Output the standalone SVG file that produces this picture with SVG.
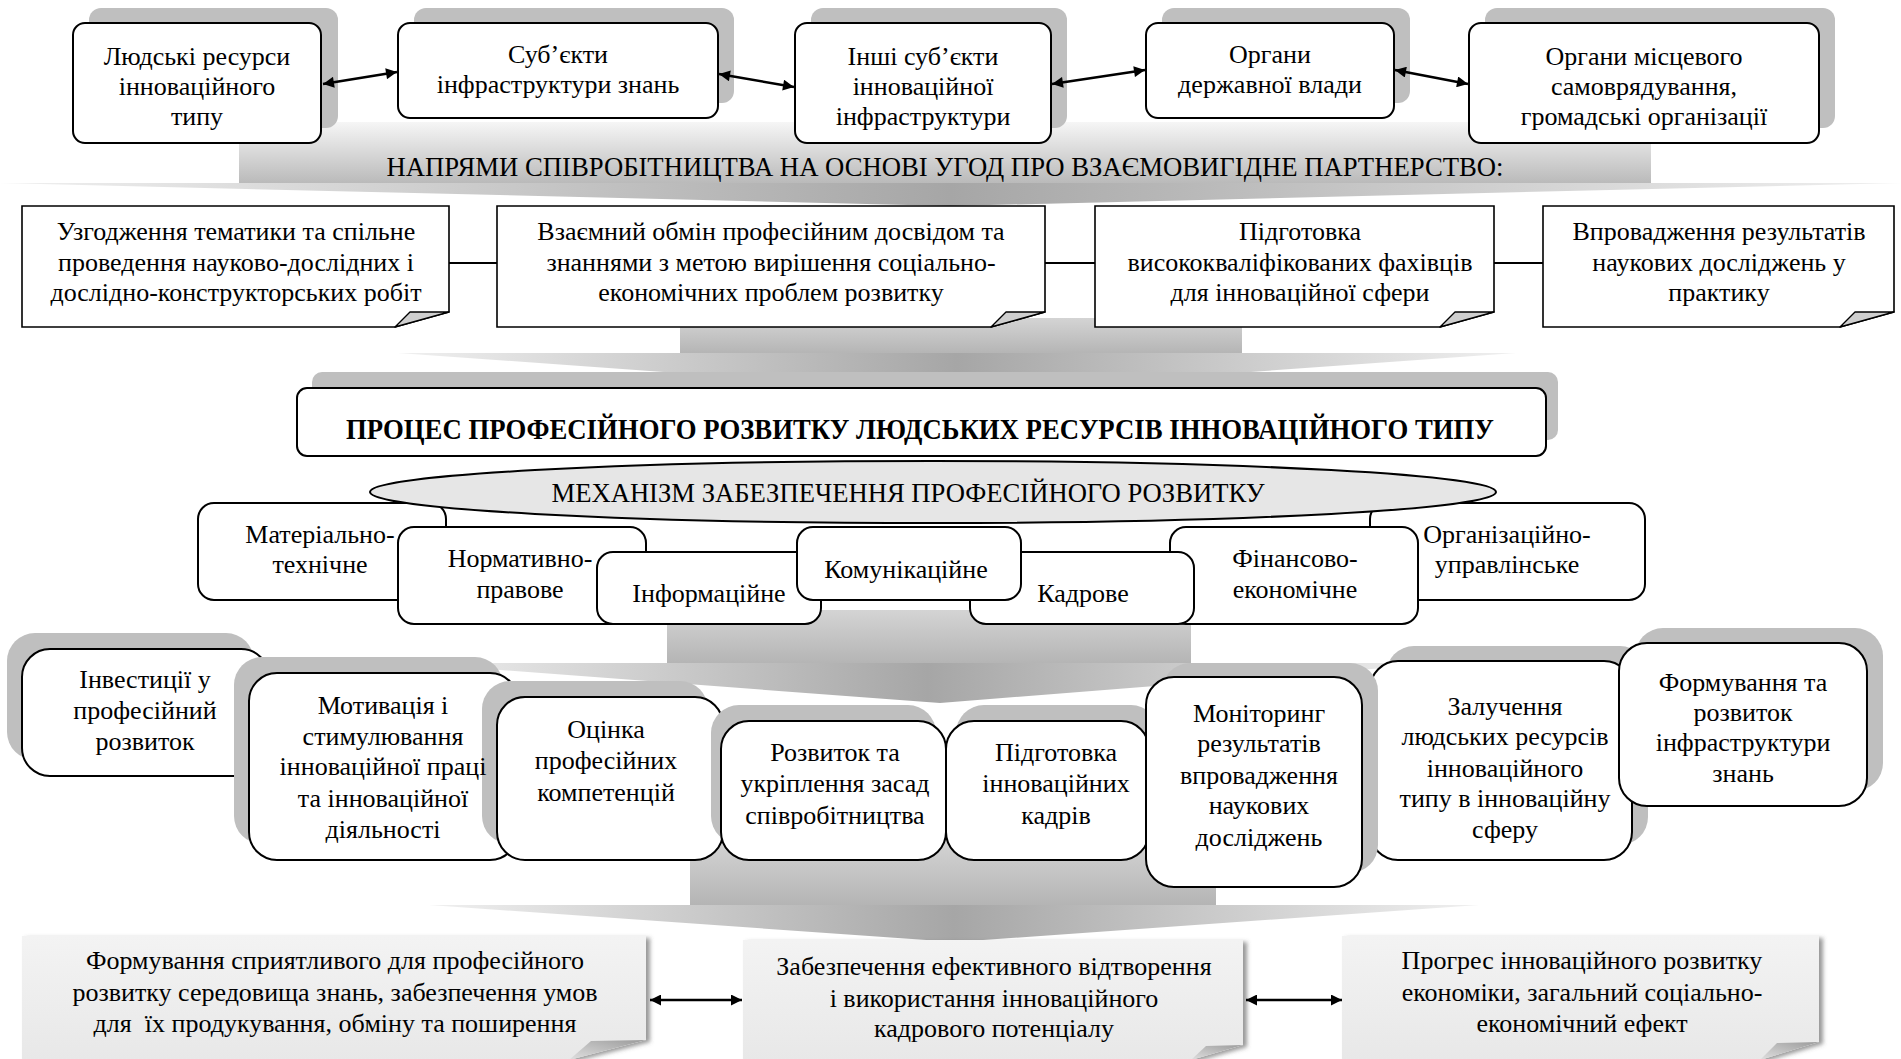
<svg xmlns="http://www.w3.org/2000/svg" width="1901" height="1059" viewBox="0 0 1901 1059">
<defs>
<style>
.t{font-family:"Liberation Serif","Times New Roman",serif;font-size:26px;text-anchor:middle;fill:#000}
.cap{font-size:28px}
.b{font-weight:bold}
.box{fill:#fff;stroke:#000;stroke-width:2}
.sh{fill:#bfbfbf}
.note{fill:#fff;stroke:#000;stroke-width:1.6}
.fold{fill:#cfcfcf;stroke:#000;stroke-width:1.4;stroke-linejoin:round}
.gnote{fill:url(#gn);filter:url(#ds)}
.gfold{fill:url(#gf)}
.arr{fill:none;stroke:#000;stroke-width:2.6;marker-start:url(#ah);marker-end:url(#ah)}
.ln{stroke:#000;stroke-width:2}
</style>
<marker id="ah" viewBox="0 0 10 10" refX="10" refY="5" markerWidth="15" markerHeight="11" markerUnits="userSpaceOnUse" orient="auto-start-reverse"><path d="M0,0 L10,5 L0,10 z" fill="#000"/></marker>
<linearGradient id="g1" x1="0" y1="0" x2="0" y2="1"><stop offset="0" stop-color="#f6f6f6"/><stop offset="1" stop-color="#b9b9b9"/></linearGradient>
<linearGradient id="g2" x1="0" y1="0" x2="0" y2="1"><stop offset="0" stop-color="#d4d4d4"/><stop offset="1" stop-color="#b4b4b4"/></linearGradient>
<linearGradient id="gh" x1="0" y1="0" x2="1" y2="0"><stop offset="0" stop-color="#f0f0f0"/><stop offset="0.5" stop-color="#a6a6a6"/><stop offset="1" stop-color="#f0f0f0"/></linearGradient>
<linearGradient id="gn" x1="0" y1="0" x2="0" y2="1"><stop offset="0" stop-color="#f3f3f3"/><stop offset="1" stop-color="#e8e8e8"/></linearGradient>
<linearGradient id="gf" x1="0" y1="1" x2="1" y2="0"><stop offset="0" stop-color="#e0e0e0"/><stop offset="1" stop-color="#9a9a9a"/></linearGradient>
<filter id="ds" x="-5%" y="-10%" width="112%" height="125%"><feDropShadow dx="4" dy="2" stdDeviation="2" flood-color="#555" flood-opacity="0.6"/></filter>
</defs>

<g id="flow-arrows">
<rect x="239" y="122" width="1412" height="62" fill="url(#g1)"/>
<polygon points="0,183 1901,183 950,206" fill="url(#gh)"/>
<rect x="680" y="318" width="562" height="36" fill="url(#g2)"/>
<polygon points="398,353 1516,353 957,393" fill="url(#gh)"/>
<rect x="667" y="610" width="524" height="54" fill="url(#g2)"/>
<polygon points="407,663 1448,663 940,703" fill="url(#gh)"/>
<rect x="690" y="840" width="526" height="66" fill="url(#g2)"/>
<polygon points="429,905 1479,905 955,942" fill="url(#gh)"/>
</g>

<text class="t cap" x="945" y="176" textLength="1117" lengthAdjust="spacingAndGlyphs">НАПРЯМИ СПІВРОБІТНИЦТВА НА ОСНОВІ УГОД ПРО ВЗАЄМОВИГІДНЕ ПАРТНЕРСТВО:</text>

<g id="top-1"><rect class="sh" x="89" y="8" width="249" height="120" rx="12"/><rect class="box" x="73" y="23" width="248" height="120" rx="12"/>
<text class="t" x="197"><tspan x="197" y="65">Людські ресурси</tspan><tspan x="197" y="95">інноваційного</tspan><tspan x="197" y="125">типу</tspan></text></g>
<g id="top-2"><rect class="sh" x="414" y="8" width="320" height="95" rx="12"/><rect class="box" x="398" y="23" width="320" height="95" rx="12"/>
<text class="t" x="558"><tspan x="558" y="63">Суб’єкти</tspan><tspan x="558" y="93">інфраструктури знань</tspan></text></g>
<g id="top-3"><rect class="sh" x="811" y="8" width="256" height="120" rx="12"/><rect class="box" x="795" y="23" width="256" height="120" rx="12"/>
<text class="t" x="923"><tspan x="923" y="65">Інші суб’єкти</tspan><tspan x="923" y="95">інноваційної</tspan><tspan x="923" y="125">інфраструктури</tspan></text></g>
<g id="top-4"><rect class="sh" x="1162" y="8" width="248" height="95" rx="12"/><rect class="box" x="1146" y="23" width="248" height="95" rx="12"/>
<text class="t" x="1270"><tspan x="1270" y="63">Органи</tspan><tspan x="1270" y="93">державної влади</tspan></text></g>
<g id="top-5"><rect class="sh" x="1485" y="8" width="350" height="120" rx="12"/><rect class="box" x="1469" y="23" width="350" height="120" rx="12"/>
<text class="t" x="1644"><tspan x="1644" y="65">Органи місцевого</tspan><tspan x="1644" y="95">самоврядування,</tspan><tspan x="1644" y="125">громадські організації</tspan></text></g>

<g id="note-1"><path class="note" d="M22,206 H449 V312 L395,327 H22 Z"/><path class="fold" d="M395,327 L410,312 L449,312 Z"/>
<text class="t" x="236"><tspan x="236" y="240">Узгодження тематики та спільне</tspan><tspan x="236" y="271">проведення науково-дослідних і</tspan><tspan x="236" y="301">дослідно-конструкторських робіт</tspan></text></g>
<g id="note-2"><path class="note" d="M497,206 H1045 V312 L991,327 H497 Z"/><path class="fold" d="M991,327 L1006,312 L1045,312 Z"/>
<text class="t" x="771"><tspan x="771" y="240">Взаємний обмін професійним досвідом та</tspan><tspan x="771" y="271">знаннями з метою вирішення соціально-</tspan><tspan x="771" y="301">економічних проблем розвитку</tspan></text></g>
<g id="note-3"><path class="note" d="M1095,206 H1494 V312 L1440,327 H1095 Z"/><path class="fold" d="M1440,327 L1455,312 L1494,312 Z"/>
<text class="t" x="1300"><tspan x="1300" y="240">Підготовка</tspan><tspan x="1300" y="271">висококваліфікованих фахівців</tspan><tspan x="1300" y="301">для інноваційної сфери</tspan></text></g>
<g id="note-4"><path class="note" d="M1543,206 H1894 V312 L1840,327 H1543 Z"/><path class="fold" d="M1840,327 L1855,312 L1894,312 Z"/>
<text class="t" x="1719"><tspan x="1719" y="240">Впровадження результатів</tspan><tspan x="1719" y="271">наукових досліджень у</tspan><tspan x="1719" y="301">практику</tspan></text></g>

<g id="process"><rect class="sh" x="312" y="372" width="1246" height="68" rx="10"/><rect class="box" x="297" y="388" width="1249" height="68" rx="10"/>
<text class="t b" x="920" y="439" style="font-size:29px" textLength="1148" lengthAdjust="spacingAndGlyphs">ПРОЦЕС ПРОФЕСІЙНОГО РОЗВИТКУ ЛЮДСЬКИХ РЕСУРСІВ ІННОВАЦІЙНОГО ТИПУ</text></g>

<g id="mech-1"><rect class="box" x="198" y="503" width="248" height="97" rx="16"/><text class="t" x="322"><tspan x="320" y="543">Матеріально-</tspan><tspan x="320" y="573">технічне</tspan></text></g>
<g id="mech-2"><rect class="box" x="398" y="527" width="248" height="97" rx="16"/><text class="t" x="520"><tspan x="520" y="567">Нормативно-</tspan><tspan x="520" y="598">правове</tspan></text></g>
<g id="mech-3"><rect class="box" x="597" y="552" width="224" height="72" rx="16"/><text class="t" x="709" y="602">Інформаційне</text></g>
<g id="mech-7"><rect class="box" x="1370" y="503" width="275" height="97" rx="16"/><text class="t" x="1507"><tspan x="1507" y="543">Організаційно-</tspan><tspan x="1507" y="573">управлінське</tspan></text></g>
<g id="mech-6"><rect class="box" x="1170" y="527" width="248" height="97" rx="16"/><text class="t" x="1295"><tspan x="1295" y="567">Фінансово-</tspan><tspan x="1295" y="598">економічне</tspan></text></g>
<g id="mech-5"><rect class="box" x="970" y="552" width="224" height="72" rx="16"/><text class="t" x="1083" y="602">Кадрове</text></g>
<g id="mech-4"><rect class="box" x="797" y="527" width="224" height="73" rx="16"/><text class="t" x="906" y="578">Комунікаційне</text></g>

<g id="mechanism"><ellipse cx="933" cy="492" rx="563" ry="31" fill="#e6e6e6" stroke="#000" stroke-width="2"/>
<text class="t cap" x="908" y="502" textLength="713" lengthAdjust="spacingAndGlyphs">МЕХАНІЗМ ЗАБЕЗПЕЧЕННЯ ПРОФЕСІЙНОГО РОЗВИТКУ</text></g>

<g id="r-1"><rect class="sh" x="7" y="633" width="247" height="127" rx="28"/><rect class="box" x="22" y="649" width="247" height="127" rx="28"/>
<text class="t"><tspan x="145" y="688">Інвестиції у</tspan><tspan x="145" y="719">професійний</tspan><tspan x="145" y="750">розвиток</tspan></text></g>
<g id="r-2"><rect class="sh" x="234" y="657" width="269" height="187" rx="28"/><rect class="box" x="249" y="673" width="269" height="187" rx="28"/>
<rect class="sh" x="482" y="681" width="226" height="163" rx="28"/>
<text class="t"><tspan x="383" y="714">Мотивація і</tspan><tspan x="383" y="745">стимулювання</tspan><tspan x="383" y="775">інноваційної праці</tspan><tspan x="383" y="807">та інноваційної</tspan><tspan x="383" y="838">діяльності</tspan></text></g>
<g id="r-3"><rect class="box" x="497" y="697" width="226" height="163" rx="28"/>
<text class="t"><tspan x="606" y="738">Оцінка</tspan><tspan x="606" y="769">професійних</tspan><tspan x="606" y="801">компетенцій</tspan></text></g>
<g id="r-4"><rect class="sh" x="711" y="705" width="225" height="139" rx="28"/><rect class="box" x="721" y="721" width="225" height="139" rx="28"/>
<text class="t"><tspan x="835" y="761">Розвиток та</tspan><tspan x="835" y="792">укріплення засад</tspan><tspan x="835" y="824">співробітництва</tspan></text></g>
<g id="r-5"><rect class="sh" x="956" y="705" width="203" height="139" rx="28"/><rect class="box" x="946" y="721" width="203" height="139" rx="28"/>
<text class="t"><tspan x="1056" y="761">Підготовка</tspan><tspan x="1056" y="792">інноваційних</tspan><tspan x="1056" y="824">кадрів</tspan></text></g>
<g id="r-7"><rect class="sh" x="1386" y="646" width="262" height="199" rx="28"/><rect class="box" x="1370" y="661" width="262" height="199" rx="28"/>
<text class="t"><tspan x="1505" y="715">Залучення</tspan><tspan x="1505" y="745">людських ресурсів</tspan><tspan x="1505" y="777">інноваційного</tspan><tspan x="1505" y="807">типу в інноваційну</tspan><tspan x="1505" y="838">сферу</tspan></text></g>
<g id="r-6"><rect class="sh" x="1162" y="663" width="216" height="210" rx="28"/><rect class="box" x="1146" y="677" width="216" height="210" rx="28"/>
<text class="t"><tspan x="1259" y="722">Моніторинг</tspan><tspan x="1259" y="752">результатів</tspan><tspan x="1259" y="784">впровадження</tspan><tspan x="1259" y="814">наукових</tspan><tspan x="1259" y="846">досліджень</tspan></text></g>
<g id="r-8"><rect class="sh" x="1635" y="628" width="248" height="163" rx="28"/><rect class="box" x="1619" y="643" width="248" height="163" rx="28"/>
<text class="t"><tspan x="1743" y="691">Формування та</tspan><tspan x="1743" y="721">розвиток</tspan><tspan x="1743" y="751">інфраструктури</tspan><tspan x="1743" y="782">знань</tspan></text></g>

<g id="res-1"><path class="gnote" d="M22,936 H646 V1040 L569,1060 H22 Z"/><path class="gfold" d="M569,1060 L591,1041 L646,1040 Z"/>
<text class="t" xml:space="preserve"><tspan x="335" y="969">Формування сприятливого для професійного</tspan><tspan x="335" y="1001">розвитку середовища знань, забезпечення умов</tspan><tspan x="335" y="1032">для  їх продукування, обміну та поширення</tspan></text></g>
<g id="res-2"><path class="gnote" d="M743,940 H1243 V1045 L1191,1060 H743 Z"/><path class="gfold" d="M1191,1060 L1206,1046 L1243,1045 Z"/>
<text class="t"><tspan x="994" y="975">Забезпечення ефективного відтворення</tspan><tspan x="994" y="1007">і використання інноваційного</tspan><tspan x="994" y="1037">кадрового потенціалу</tspan></text></g>
<g id="res-3"><path class="gnote" d="M1342,936 H1819 V1042 L1760,1060 H1342 Z"/><path class="gfold" d="M1760,1060 L1777,1043 L1819,1042 Z"/>
<text class="t"><tspan x="1582" y="969">Прогрес інноваційного розвитку</tspan><tspan x="1582" y="1001">економіки, загальний соціально-</tspan><tspan x="1582" y="1032">економічний ефект</tspan></text></g>

<g id="connectors">
<path class="arr" d="M323,84 L397,72"/>
<path class="arr" d="M719,74 L794,87"/>
<path class="arr" d="M1052,84 L1145,70"/>
<path class="arr" d="M1395,70 L1468,84"/>
<line class="ln" x1="449" y1="263" x2="497" y2="263"/>
<line class="ln" x1="1045" y1="263" x2="1095" y2="263"/>
<line class="ln" x1="1494" y1="263" x2="1543" y2="263"/>
<path class="arr" d="M650,1000 L742,1000"/>
<path class="arr" d="M1246,1000 L1342,1000"/>
</g>
</svg>
